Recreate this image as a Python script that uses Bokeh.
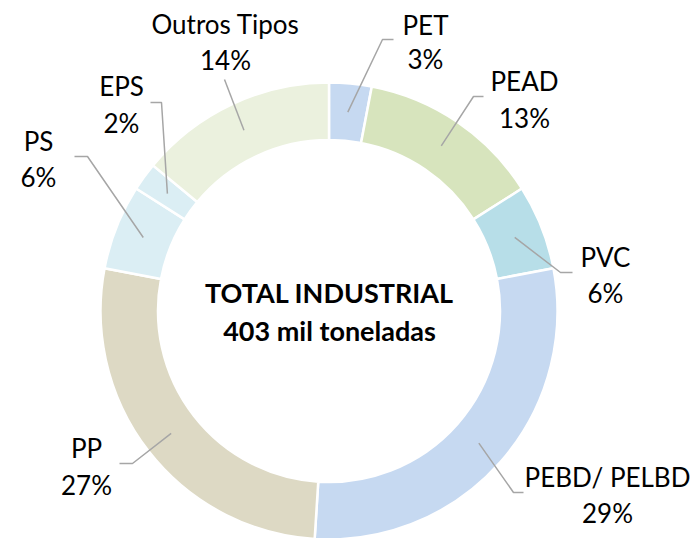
import math
from bokeh.plotting import figure
from bokeh.models import Range1d
from bokeh.core.properties import value
from bokeh.embed import file_html
from bokeh.resources import INLINE

# ---- data ----
categories = ["PET", "PEAD", "PVC", "PEBD/ PELBD", "PP", "PS", "EPS", "Outros Tipos"]
shares = [3, 13, 6, 29, 27, 6, 2, 14]
colors = ["#C6D9F1", "#D7E4BD", "#B7DEE8", "#C6D9F1", "#DDD9C4", "#DBEEF4", "#DBEEF4", "#EBF1DE"]
center_lines = ["TOTAL INDUSTRIAL", "403 mil toneladas"]

# ---- layout (image pixel coordinates) ----
W, H = 693, 538
IMG_H = 538
def ty(yi):
    return IMG_H - yi

CX, CY = 328.5, 310.5
R_OUT, R_IN = 228.5, 171.0
R_MID = (R_OUT + R_IN) / 2

# label centres (name line y, percent line y)
label_pos = [(425, 24, 58), (524, 80, 117), (605, 256, 292), (607, 476, 512),
             (86, 447, 484), (38, 140, 176), (121, 85, 122), (225, 23, 59)]
# leader elbow + end points
leader_pts = [[(382, 39), (393, 39)], [(473, 96), (483, 96)], [(560, 272), (572, 272)],
              [(513, 492), (523, 492)], [(132, 463), (119, 463)], [(87, 156), (74, 156)],
              [(161, 102), (150, 102)], [(224, 79)]]

FONT = "Lato"
FS = "26px"

p = figure(width=W, height=H, output_backend="svg", toolbar_location=None,
           x_axis_type=None, y_axis_type=None, min_border=0,
           x_range=Range1d(0, W), y_range=Range1d(0, H))
p.outline_line_color = None
p.grid.visible = False
p.background_fill_color = "white"

total = sum(shares)
starts, ends, mids = [], [], []
cum = 0
for s in shares:
    a0 = math.pi / 2 - 2 * math.pi * cum / total
    a1 = math.pi / 2 - 2 * math.pi * (cum + s) / total
    am = math.pi / 2 - 2 * math.pi * (cum + s / 2) / total
    starts.append(a0); ends.append(a1); mids.append(am)
    cum += s

p.annular_wedge(x=[CX] * len(shares), y=[ty(CY)] * len(shares),
                inner_radius=R_IN, outer_radius=R_OUT,
                start_angle=starts, end_angle=ends, direction="clock",
                fill_color=colors, line_color="white", line_width=2.5)

# leader lines
xs, ys = [], []
for am, pts in zip(mids, leader_pts):
    x0 = CX + R_MID * math.cos(am)
    y0 = ty(CY) + R_MID * math.sin(am)
    xs.append([x0] + [pt[0] for pt in pts])
    ys.append([y0] + [ty(pt[1]) for pt in pts])
p.multi_line(xs=xs, ys=ys, line_color="#A6A6A6", line_width=1.5)

# labels
lx, ly, lt = [], [], []
for cat, s, (x, yn, yp) in zip(categories, shares, label_pos):
    lx += [x, x]; ly += [ty(yn), ty(yp)]; lt += [cat, f"{s}%"]
p.text(x=lx, y=ly, text=lt, text_align="center", text_baseline="middle",
       text_font=value(FONT), text_font_size=FS, text_color="#000000")

p.text(x=[329, 329], y=[ty(292), ty(330)], text=center_lines, text_align="center",
       text_baseline="middle", text_font=value(FONT), text_font_size="27px",
       text_font_style="bold", text_color="#000000")

open("out.html", "w").write(file_html(p, INLINE))
